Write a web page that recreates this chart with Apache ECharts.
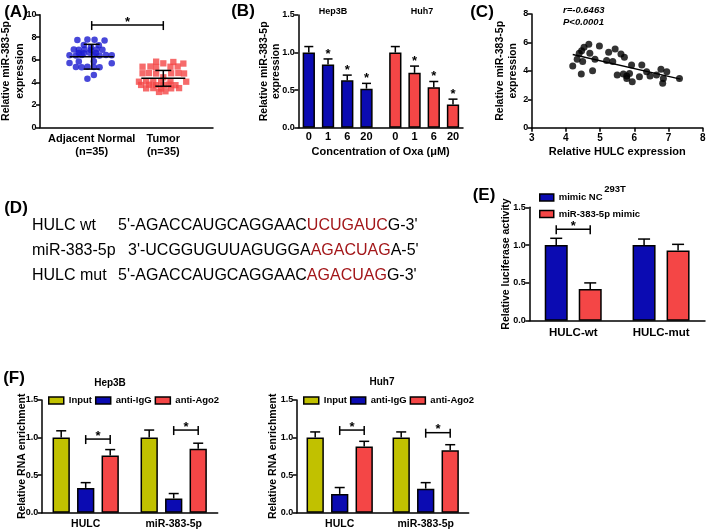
<!DOCTYPE html>
<html><head><meta charset="utf-8">
<script src="https://cdn.jsdelivr.net/npm/echarts@6/dist/echarts.min.js"></script>
<style>html,body{margin:0;padding:0;background:#fff}#c{width:709px;height:532px}</style>
</head><body><div id="c"></div>
<script>
// ---------- Panel A ----------
const aGroups = ['Adjacent Normal\n(n=35)', 'Tumor\n(n=35)'];
const aNormalVals = [7.75,7.8,7.78,7.7, 7.32,7.28, 7.12, 6.9,6.88,6.92,6.86,6.9,6.88, 6.6,6.58,6.62,6.6, 6.4,6.38,6.42,6.4,6.38,6.42,6.4, 5.85,5.87, 5.7,5.68, 5.36,5.34,5.38,5.35,5.33, 4.65, 4.32];
const aNormalJit  = [-0.20,-0.06,0.04,0.18, -0.11,0.10, -0.01, -0.25,-0.18,-0.10,-0.01,0.07,0.15, -0.18,-0.11,-0.03,0.06, -0.31,-0.22,-0.14,0.03,0.11,0.20,0.28, -0.18,0.03, -0.31,0.28, -0.22,-0.14,-0.06,0.03,0.11, 0.03, -0.06];
const aTumorVals = [5.83,5.8, 5.68,5.66, 5.38,5.4,5.36,5.38,5.4, 4.8,4.82,4.78,4.8,4.82,4.78, 4.44, 4.05,4.07,4.03,4.05,4.07,4.05, 3.76,3.78,3.74,3.76,3.78,3.74, 3.46,3.48,3.44,3.46,3.48, 3.14,3.2];
const aTumorJit  = [-0.10,0.14, 0,0.28, -0.29,-0.18,-0.10,0.10,0.20, -0.29,-0.20,-0.10,0.11,0.21,0.29, 0, -0.34,-0.24,-0.14,-0.03,0.10,0.32, -0.31,-0.20,-0.10,0,0.08,0.17, -0.24,-0.14,-0.03,0.11,0.22, -0.06,0.03];
const aMean = [6.27, 4.35];
const aSD = [1.1, 0.7];
const aSig = 9.08;

// ---------- Panel B ----------
const bCells = ['Hep3B', 'Huh7'];
const bConc = ['0', '1', '6', '20'];
const bHep3B = [1.0, 0.84, 0.63, 0.52];
const bHep3BErr = [0.08, 0.075, 0.07, 0.07];
const bHuh7 = [1.0, 0.73, 0.54, 0.31];
const bHuh7Err = [0.08, 0.09, 0.075, 0.07];
const bStar = [0, 1, 1, 1];

// ---------- Panel C ----------
const cHULC = [4.20,4.33,4.39,4.46,4.53,4.67,4.49,4.45,4.70,4.85,4.78,4.98,5.19,5.25,5.37,5.44,5.50,5.61,5.71,5.68,5.78,5.78,5.86,5.92,5.94,6.15,6.22,6.36,6.46,6.65,6.78,6.95,6.85,6.83,7.32];
const cMiR  = [4.34,4.81,5.23,5.42,5.66,5.87,4.65,3.78,5.23,4.81,4.01,5.75,4.72,5.31,4.65,5.54,3.71,5.19,4.95,3.78,3.64,3.47,3.82,4.41,3.24,3.59,4.41,3.94,3.64,3.71,4.11,3.94,3.47,3.12,3.47];
const cFitX = [4.2, 7.35];
const cFitY = [5.15, 3.42];
const cStats = ['r=-0.6463', 'P<0.0001'];

// ---------- Panel D ----------
const dNames = ['HULC wt', 'miR-383-5p', 'HULC mut'];
const dPre  = ["5'-AGACCAUGCAGGAAC", "3'-UCGGUGUUAGUGGA", "5'-AGACCAUGCAGGAAC"];
const dSite = ['UCUGAUC', 'AGACUAG', 'AGACUAG'];
const dPost = ["G-3'", "A-5'", "G-3'"];

// ---------- Panel E ----------
const eCats = ['HULC-wt', 'HULC-mut'];
const eSeries = ['mimic NC', 'miR-383-5p mimic'];
const eNC = [1.0, 1.0];
const eNCErr = [0.09, 0.08];
const eMimic = [0.42, 0.93];
const eMimicErr = [0.08, 0.08];
const eSig = 1.21;

// ---------- Panel F ----------
const fCats = ['HULC', 'miR-383-5p'];
const fSeries = ['Input', 'anti-IgG', 'anti-Ago2'];
const fHepInput = [1.0, 1.0];   const fHepInputErr = [0.09, 0.1];
const fHepIgG = [0.33, 0.19];   const fHepIgGErr = [0.07, 0.065];
const fHepAgo2 = [0.76, 0.85];  const fHepAgo2Err = [0.08, 0.075];
const fHuhInput = [1.0, 1.0];   const fHuhInputErr = [0.075, 0.075];
const fHuhIgG = [0.25, 0.32];   const fHuhIgGErr = [0.085, 0.08];
const fHuhAgo2 = [0.88, 0.83];  const fHuhAgo2Err = [0.07, 0.075];
const fHepSig = [0.98, 1.10];
const fHuhSig = [1.10, 1.065];

// ---------- styling ----------
const FF = '"Liberation Sans", Arial, Helvetica, sans-serif';
const BLUE = '#0b0bb2', DOT_BLUE = '#1a1ad0', RED = '#f44646', OLIVE = '#c1c100', DARKRED = '#a3171a';
const LINE = {color: '#000', width: 1.5};

function yAx(g, min, max, interval, dec, name, gap, lh) {
  return {type: 'value', gridIndex: g, min, max, interval,
    axisLine: {show: true, onZero: false, lineStyle: LINE},
    axisTick: {show: true, length: 4, lineStyle: LINE},
    axisLabel: {color: '#000', fontSize: 9, fontWeight: 'bold', fontFamily: FF, margin: 3.5, formatter: v => v.toFixed(dec)},
    splitLine: {show: false},
    name, nameLocation: 'middle', nameRotate: 90, nameGap: gap, nameMoveOverlap: false,
    nameTextStyle: {color: '#000', fontSize: 10.5, fontWeight: 'bold', fontFamily: FF, lineHeight: lh || 12.5}};
}
function xCat(g, data, fs) {
  return {type: 'category', gridIndex: g, data,
    axisLine: {show: true, onZero: false, lineStyle: LINE}, axisTick: {show: false},
    axisLabel: {color: '#000', fontSize: fs, fontWeight: 'bold', fontFamily: FF, margin: 6},
    splitLine: {show: false}};
}
function txt(x, y, text, font, align, extra) {
  return Object.assign({type: 'text', x, y, silent: true,
    style: {text, font, fill: '#000', textAlign: align || 'center', textVerticalAlign: 'middle', align: align || 'center', verticalAlign: 'middle'}}, extra || {});
}
function offOf(s, n, bw, gp) { return (s - (n - 1) / 2) * (bw + gp); }

function errSeries(xi, yi, data, n, bw, gp, cap) {
  return {type: 'custom', xAxisIndex: xi, yAxisIndex: yi, z: 5, silent: true, data, encode: {x: 0, y: 2},
    renderItem(p, api) {
      const cat = api.value(0), s = api.value(1), m = api.value(2), e = api.value(3), st = api.value(4);
      const a = api.coord([cat, m]), b = api.coord([cat, m + e]);
      const x = a[0] + offOf(s, n, bw, gp);
      const ch = [
        {type: 'line', shape: {x1: x, y1: a[1], x2: x, y2: b[1]}, style: {stroke: '#000', lineWidth: 1.5}},
        {type: 'line', shape: {x1: x - cap, y1: b[1], x2: x + cap, y2: b[1]}, style: {stroke: '#000', lineWidth: 1.5}}];
      if (st) ch.push({type: 'text', x: x, y: b[1] - 5, style: {text: '*', font: 'bold 13px ' + FF, fill: '#000', textAlign: 'center', textVerticalAlign: 'middle', align: 'center', verticalAlign: 'middle'}});
      return {type: 'group', children: ch};
    }};
}
function bracketSeries(xi, yi, data, n, bw, gp) {
  return {type: 'custom', xAxisIndex: xi, yAxisIndex: yi, z: 5, silent: true, data, encode: {x: 0, y: 2},
    renderItem(p, api) {
      const c1 = api.value(0), c2 = api.value(1), y = api.value(2), s1 = api.value(3), s2 = api.value(4);
      const p1 = api.coord([c1, y]), p2 = api.coord([c2, y]);
      const x1 = p1[0] + offOf(s1, n, bw, gp), x2 = p2[0] + offOf(s2, n, bw, gp), yy = p1[1];
      const st = {stroke: '#000', lineWidth: 1.5};
      return {type: 'group', children: [
        {type: 'line', shape: {x1, y1: yy, x2, y2: yy}, style: st},
        {type: 'line', shape: {x1, y1: yy - 4, x2: x1, y2: yy + 5}, style: st},
        {type: 'line', shape: {x1: x2, y1: yy - 4, x2, y2: yy + 5}, style: st},
        {type: 'text', x: (x1 + x2) / 2, y: yy - 3, style: {text: '*', font: 'bold 13px ' + FF, fill: '#000', textAlign: 'center', textVerticalAlign: 'middle', align: 'center', verticalAlign: 'middle'}}]};
    }};
}

// ---------- build ----------
const gridBase = {outerBoundsMode: 'none', containLabel: false};
const grids = [
  {left: 40, top: 14.7, width: 173, height: 112.6},     // A
  {left: 298.3, top: 15, width: 164.7, height: 112.7},  // B
  {left: 531.7, top: 14, width: 171, height: 113.7},    // C
  {left: 529.3, top: 207.3, width: 175.7, height: 113.4}, // E
  {left: 41.7, top: 400, width: 176, height: 112.7},    // F Hep3B
  {left: 296.7, top: 400, width: 172, height: 112.7}    // F Huh7
].map(g => Object.assign({}, gridBase, g));

// B positions
const bPos = [];
bCells.forEach((c, ci) => bConc.forEach((k, ki) => bPos.push(ci * 4.5 + ki)));
const bVals = bHep3B.concat(bHuh7), bErrs = bHep3BErr.concat(bHuh7Err), bStars = bStar.concat(bStar);
const bLabels = bConc.concat(bConc);

const xAxes = [
  {type: 'value', gridIndex: 0, min: 0.278, max: 2.694,
    axisLine: {show: true, onZero: false, lineStyle: LINE}, axisTick: {show: false}, splitLine: {show: false},
    axisLabel: {customValues: [1, 2], formatter: v => aGroups[Math.round(v) - 1], color: '#000', fontSize: 11, fontWeight: 'bold', fontFamily: FF, lineHeight: 13, margin: 5}},
  {type: 'value', gridIndex: 1, min: -0.546, max: 8.02,
    axisLine: {show: true, onZero: false, lineStyle: LINE}, axisTick: {show: false}, splitLine: {show: false},
    axisLabel: {customValues: bPos, formatter: v => {let b = 0; bPos.forEach((p, i) => { if (Math.abs(p - v) < Math.abs(bPos[b] - v)) b = i; }); return bLabels[b];},
      color: '#000', fontSize: 11, fontWeight: 'bold', fontFamily: FF, margin: 4},
    name: 'Concentration of Oxa (\u03BCM)', nameLocation: 'middle', nameGap: 19, nameMoveOverlap: false,
    nameTextStyle: {color: '#000', fontSize: 11, fontWeight: 'bold', fontFamily: FF}},
  {type: 'value', gridIndex: 2, min: 3, max: 8, interval: 1,
    axisLine: {show: true, onZero: false, lineStyle: LINE}, axisTick: {show: true, length: 4, lineStyle: LINE}, splitLine: {show: false},
    axisLabel: {color: '#000', fontSize: 10, fontWeight: 'bold', fontFamily: FF, margin: 6},
    name: 'Relative HULC expression', nameLocation: 'middle', nameGap: 19, nameMoveOverlap: false,
    nameTextStyle: {color: '#000', fontSize: 11, fontWeight: 'bold', fontFamily: FF}},
  xCat(3, eCats, 11.5),
  xCat(4, fCats, 10.5),
  xCat(5, fCats, 10.5)
];
const yAxes = [
  yAx(0, 0, 10, 2, 0, 'Relative miR-383-5p\nexpression', 12.5, 14),
  yAx(1, 0, 1.5, 0.5, 1, 'Relative miR-383-5p\nexpression', 15.5),
  yAx(2, 0, 8, 2, 0, 'Relative miR-383-5p\nexpression', 12.5),
  yAx(3, 0, 1.5, 0.5, 1, 'Relative luciferase activity', 17),
  yAx(4, 0, 1.5, 0.5, 1, 'Relative RNA enrichment', 13),
  yAx(5, 0, 1.5, 0.5, 1, 'Relative RNA enrichment', 17.5)
];

const barStyle = c => ({color: c, borderColor: '#000', borderWidth: 1.5});
const series = [];
// A
series.push({name: 'A-normal', type: 'scatter', xAxisIndex: 0, yAxisIndex: 0, symbol: 'circle', symbolSize: 6.5,
  itemStyle: {color: DOT_BLUE}, data: aNormalVals.map((v, i) => [1 + aNormalJit[i], v])});
series.push({name: 'A-tumor', type: 'scatter', xAxisIndex: 0, yAxisIndex: 0, symbol: 'rect', symbolSize: 6.3,
  itemStyle: {color: RED}, data: aTumorVals.map((v, i) => [2 + aTumorJit[i], v])});
series.push({type: 'custom', xAxisIndex: 0, yAxisIndex: 0, z: 6, silent: true, encode: {x: 0, y: 1},
  data: aMean.map((m, i) => [i + 1, m, aSD[i]]),
  renderItem(p, api) {
    const x = api.value(0), m = api.value(1), sd = api.value(2);
    const pm = api.coord([x, m]), pu = api.coord([x, m + sd]), pl = api.coord([x, m - sd]);
    const st = {stroke: '#000', lineWidth: 1.5};
    return {type: 'group', children: [
      {type: 'line', shape: {x1: pm[0] - 22, y1: pm[1], x2: pm[0] + 22, y2: pm[1]}, style: st},
      {type: 'line', shape: {x1: pm[0], y1: pu[1], x2: pm[0], y2: pl[1]}, style: st},
      {type: 'line', shape: {x1: pm[0] - 8, y1: pu[1], x2: pm[0] + 8, y2: pu[1]}, style: st},
      {type: 'line', shape: {x1: pm[0] - 8, y1: pl[1], x2: pm[0] + 8, y2: pl[1]}, style: st}]};
  }});
series.push(bracketSeries(0, 0, [[1, 2, aSig, 0, 0]], 1, 0, 0));
// B
series.push({name: 'B', type: 'bar', xAxisIndex: 1, yAxisIndex: 1, barWidth: 12.3,
  data: bVals.map((v, i) => ({value: [bPos[i], v], itemStyle: barStyle(i < 4 ? BLUE : RED)}))});
series.push(errSeries(1, 1, bVals.map((v, i) => [bPos[i], 0, v, bErrs[i], bStars[i]]), 1, 0, 0, 4.5));
// C
series.push({name: 'C', type: 'scatter', xAxisIndex: 2, yAxisIndex: 2, symbolSize: 7, itemStyle: {color: '#000'},
  data: cHULC.map((v, i) => [v, cMiR[i]])});
series.push({name: 'C-fit', type: 'line', xAxisIndex: 2, yAxisIndex: 2, symbol: 'none', lineStyle: {color: '#000', width: 1.3},
  data: cFitX.map((v, i) => [v, cFitY[i]])});
// E
const eBW = 23, eGP = 11;
series.push({name: eSeries[0], type: 'bar', xAxisIndex: 3, yAxisIndex: 3, barWidth: eBW, barGap: (eGP / eBW * 100) + '%', itemStyle: barStyle(BLUE), data: eNC});
series.push({name: eSeries[1], type: 'bar', xAxisIndex: 3, yAxisIndex: 3, barWidth: eBW, barGap: (eGP / eBW * 100) + '%', itemStyle: barStyle(RED), data: eMimic});
series.push(errSeries(3, 3, eNC.map((v, i) => [i, 0, v, eNCErr[i], 0]).concat(eMimic.map((v, i) => [i, 1, v, eMimicErr[i], 0])), 2, eBW, eGP, 6));
series.push(bracketSeries(3, 3, [[0, 0, eSig, 0, 1]], 2, eBW, eGP));
// F
const fBW = 17.3, fGP = 7.2;
const fColors = [OLIVE, BLUE, RED];
function fPanel(ax, vals, errs, sig) {
  vals.forEach((d, s) => series.push({name: fSeries[s], type: 'bar', xAxisIndex: ax, yAxisIndex: ax, barWidth: fBW,
    barGap: (fGP / fBW * 100) + '%', itemStyle: barStyle(fColors[s]), data: d}));
  const ed = [];
  vals.forEach((d, s) => d.forEach((v, i) => ed.push([i, s, v, errs[s][i], 0])));
  series.push(errSeries(ax, ax, ed, 3, fBW, fGP, 5));
  series.push(bracketSeries(ax, ax, sig.map((y, i) => [i, i, y, 1, 2]), 3, fBW, fGP));
}
fPanel(4, [fHepInput, fHepIgG, fHepAgo2], [fHepInputErr, fHepIgGErr, fHepAgo2Err], fHepSig);
fPanel(5, [fHuhInput, fHuhIgG, fHuhAgo2], [fHuhInputErr, fHuhIgGErr, fHuhAgo2Err], fHuhSig);

const legBase = {icon: 'rect', itemWidth: 14, itemHeight: 7, padding: 0, selectedMode: false,
  itemStyle: {borderColor: '#000', borderWidth: 1.5},
  textStyle: {color: '#000', fontSize: 9.5, fontWeight: 'bold', fontFamily: FF}};
const legends = [
  Object.assign({}, legBase, {data: eSeries, orient: 'vertical', left: 539, top: 192.5, itemGap: 6.5}),
  Object.assign({}, legBase, {data: fSeries, orient: 'horizontal', left: 48, top: 395.5, itemGap: 3, itemWidth: 15}),
  Object.assign({}, legBase, {data: fSeries, orient: 'horizontal', left: 303, top: 395.5, itemGap: 3, itemWidth: 15})
];

// graphics: panel letters, titles, panel D
const G = [];
const LBL = 'bold 17px ' + FF;
[['(A)', 16, 12.5], ['(B)', 243, 11.5], ['(C)', 482, 12.5], ['(D)', 16, 208.5], ['(E)', 484, 195], ['(F)', 14, 378.5]]
  .forEach(a => G.push(txt(a[1], a[2], a[0], LBL)));
G.push(txt(333, 12, bCells[0], 'bold 9px ' + FF));
G.push(txt(422, 12, bCells[1], 'bold 9px ' + FF));
G.push(txt(615, 189, '293T', 'bold 9.5px ' + FF));
G.push(txt(110, 383, bCells[0], 'bold 10px ' + FF));
G.push(txt(382, 382, bCells[1], 'bold 10px ' + FF));
G.push(txt(563, 10.5, cStats[0], 'italic bold 9.5px ' + FF, 'left'));
G.push(txt(563, 22.5, cStats[1], 'italic bold 9.5px ' + FF, 'left'));
const dY = [225.5, 250.5, 276];
const dSeqX = [118, 128, 118];
dNames.forEach((n, i) => {
  G.push(txt(32, dY[i], n, '16px ' + FF, 'left'));
  G.push({type: 'text', x: dSeqX[i], y: dY[i], silent: true, style: {
    text: '{k|' + dPre[i] + '}{r|' + dSite[i] + '}{k|' + dPost[i] + '}',
    font: '16px ' + FF, fill: '#000', textAlign: 'left', textVerticalAlign: 'middle', align: 'left', verticalAlign: 'middle',
    rich: {k: {fill: '#000', color: '#000', font: '16px ' + FF, fontSize: 16, fontFamily: FF},
           r: {fill: DARKRED, color: DARKRED, font: '16px ' + FF, fontSize: 16, fontFamily: FF}}}});
});

const chart = echarts.init(document.getElementById('c'), null, {renderer: 'canvas'});
chart.setOption({
  animation: false, backgroundColor: '#fff',
  textStyle: {fontFamily: FF},
  grid: grids, xAxis: xAxes, yAxis: yAxes, series, legend: legends, graphic: {elements: G}
});
</script></body></html>
